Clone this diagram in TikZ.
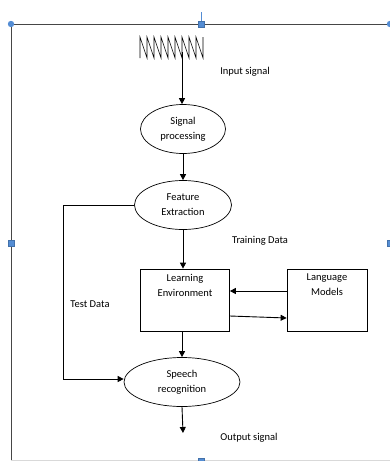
\documentclass[tikz,border=0pt]{standalone}
\usepackage{fontspec}
\setmainfont{Carlito}
\usetikzlibrary{shapes.geometric,arrows.meta}
\definecolor{handleblue}{RGB}{84,141,212}
\definecolor{framegray}{RGB}{70,70,70}
\newcommand{\Handle}[1]{
	\filldraw[handleblue!80!black, fill=handleblue, line width=0.4pt] ([shift={(-3,-3)}]#1) rectangle ([shift={(3,3)}]#1);
}
\tikzset{
	stage/.style={ellipse, draw, line width=0.7pt, minimum width=#1, minimum height=49pt, inner sep=0pt, align=center, font=\fontsize{10.5}{15}\selectfont},
	block/.style={rectangle, draw, line width=0.7pt, minimum width=#1, minimum height=62pt},
	tag/.style={font=\fontsize{10.5}{15}\selectfont, align=center},
	flow/.style={-{Triangle[length=6pt,width=6pt]}, line width=0.9pt}
}
\begin{document}
\begin{tikzpicture}[x=1pt, y=-1pt]
	\useasboundingbox (0,0) rectangle (390,461);

	% selection frame
	\draw[framegray, line width=0.8pt] (390,24) -- (11,24) -- (11,460);
	\draw[black!15, line width=0.8pt] (11,460) -- (390,460);
	\draw[handleblue, line width=0.8pt] (201,12) -- (201,24);
	\fill[handleblue] (11,24) circle (3.2);
	\fill[handleblue] (390,24) circle (3.2);
	\coordinate (hTop) at (201,24);
	\coordinate (hLeft) at (11,243);
	\coordinate (hRight) at (390,243);
	\coordinate (hBottom) at (201,461);
	\Handle{hTop}
	\Handle{hLeft}
	\Handle{hRight}
	\Handle{hBottom}

	% input waveform
	\draw[line width=0.6pt] (140,58)
		\foreach \k in {0,...,8} { -- (140+7*\k,37) -- (147+7*\k,58) } -- (203,37);
	\coordinate (wave) at (182,52);

	% stages
	\node[stage=85pt] (sig) at (183,129) {Signal\\processing};
	\node[stage=97pt] (feat) at (183,205) {Feature\\Extraction};
	\node[block=89pt] (learn) at (185,300) {};
	\node[tag, below=2pt] at (learn.north) {Learning\\Environment};
	\node[block=80pt] (lang) at (327,300) {};
	\node[tag, below=2pt] at (lang.north) {Language\\Models};
	\node[stage=116pt] (speech) at (182,382) {Speech\\recognition};
	\coordinate (out) at (183,433);
	\coordinate (bend1) at (63,205);
	\coordinate (bend2) at (63,379);

	% labels
	\node[tag] (lIn) at (245,72) {Input signal};
	\node[tag] (lTrain) at (260,241) {Training Data};
	\node[tag] (lTest) at (90,304) {Test Data};
	\node[tag] (lOut) at (249,438) {Output signal};

	% connectors
	\draw[flow] (wave) -- (wave |- sig.north);
	\draw[flow] (sig) -- (feat);
	\draw[flow] (feat.south) -- (feat.south |- learn.north);
	\draw[flow] (feat.west) -- (bend1) -- (bend2) -- (bend2 -| speech.west);
	\draw[flow] ([yshift=9pt]lang.west) -- ([yshift=9pt]learn.east);
	\draw[flow] ([yshift=-16pt]learn.east) -- ([yshift=-18pt]lang.west);
	\draw[flow] (learn.south -| speech.north) -- (speech.north);
	\draw[flow] (speech.south) -- (out);
\end{tikzpicture}
\end{document}
